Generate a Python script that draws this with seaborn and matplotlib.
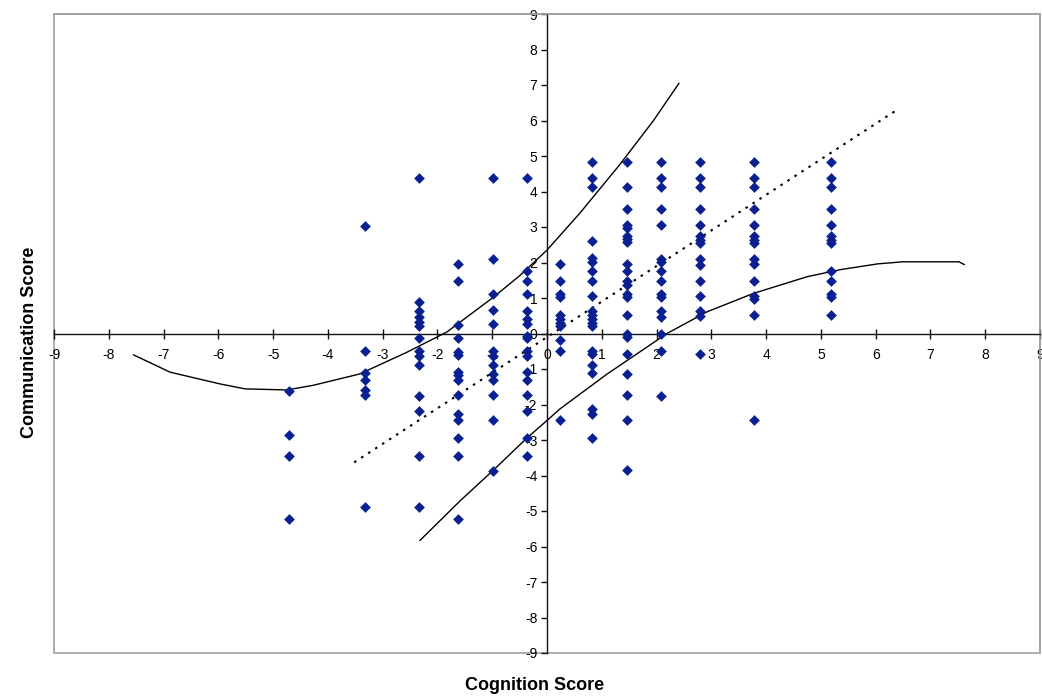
import matplotlib
matplotlib.use("Agg")
import matplotlib.pyplot as plt
from matplotlib.patches import Rectangle
import seaborn as sns
import pandas as pd

# ---- data ----
cognition_levels = [-4.71, -3.33, -2.34, -1.62, -0.98, -0.36, 0.24, 0.83, 1.46, 2.08, 2.80, 3.78, 5.19]
comm_m471 = [-1.61, -2.87, -3.45, -5.22]
comm_m333 = [3.02, -0.50, -1.12, -1.30, -1.58, -1.73, -4.89]
comm_m234 = [4.38, 0.90, 0.62, 0.47, 0.33, 0.22, -0.13, -0.50, -0.62, -0.90, -1.77, -2.17, -3.45, -4.89]
comm_m162 = [1.97, 1.47, 0.23, -0.13, -0.52, -0.60, -1.09, -1.18, -1.30, -1.74, -2.28, -2.43, -2.95, -3.45, -5.22]
comm_m098 = [4.38, 2.10, 1.10, 0.65, 0.27, -0.50, -0.62, -0.90, -1.13, -1.30, -1.74, -2.43, -3.88]
comm_m036 = [4.38, 1.77, 1.47, 1.10, 0.62, 0.40, 0.27, -0.06, -0.13, -0.50, -0.62, -1.09, -1.30, -1.72, -2.19, -2.95, -3.45]
comm_p024 = [1.97, 1.47, 1.10, 1.02, 0.53, 0.41, 0.29, 0.20, -0.17, -0.50, -2.43]
comm_p083 = [4.82, 4.38, 4.12, 2.60, 2.12, 2.01, 1.77, 1.47, 1.07, 0.62, 0.51, 0.40, 0.30, 0.20,
             -0.50, -0.57, -0.88, -1.11, -2.14, -2.28, -2.94]
comm_p146 = [4.82, 4.12, 3.50, 3.05, 2.98, 2.74, 2.67, 2.57, 1.97, 1.77, 1.47, 1.38, 1.10, 1.02, 0.51,
             -0.01, -0.10, -0.57, -1.13, -1.74, -2.43, -3.84]
comm_p208 = [4.82, 4.38, 4.12, 3.50, 3.05, 2.10, 2.01, 1.77, 1.47, 1.10, 1.02, 0.62, 0.47, -0.01, -0.50, -1.76]
comm_p280 = [4.82, 4.38, 4.12, 3.50, 3.05, 2.74, 2.64, 2.55, 2.10, 1.92, 1.47, 1.07, 0.62, 0.49, -0.57]
comm_p378 = [4.82, 4.38, 4.12, 3.50, 3.05, 2.74, 2.64, 2.55, 2.10, 1.97, 1.47, 1.07, 0.98, 0.51, -2.43]
comm_p519 = [4.82, 4.38, 4.12, 3.50, 3.05, 2.74, 2.64, 2.55, 1.77, 1.47, 1.10, 1.02, 0.51]

# regression line (dotted) end points
fit_x = [-3.52, 6.40]
fit_y = [-3.63, 6.31]

# upper solid curve
upper_x = [-7.55, -6.88, -5.97, -5.51, -4.75, -4.27, -3.42, -2.56, -1.83, -0.98, -0.49, 0.00, 0.60, 1.33, 1.94, 2.41]
upper_y = [-0.60, -1.09, -1.42, -1.56, -1.59, -1.46, -1.14, -0.53, 0.04, 1.02, 1.64, 2.35, 3.39, 4.76, 5.99, 7.05]

# lower solid curve
lower_x = [-2.32, -1.59, -0.98, -0.37, 0.00, 0.24, 1.09, 2.19, 2.92, 3.77, 4.75, 5.36, 6.03, 6.50, 7.52, 7.62]
lower_y = [-5.83, -4.72, -3.85, -2.95, -2.45, -2.12, -1.15, 0.00, 0.61, 1.13, 1.60, 1.80, 1.96, 2.02, 2.02, 1.94]

x_ticks = list(range(-9, 10))
y_ticks = list(range(-9, 10))

# ---- assemble ----
columns = [comm_m471, comm_m333, comm_m234, comm_m162, comm_m098, comm_m036, comm_p024,
           comm_p083, comm_p146, comm_p208, comm_p280, comm_p378, comm_p519]
rows = []
for cx, ys in zip(cognition_levels, columns):
    for v in ys:
        rows.append((cx, v))
df = pd.DataFrame(rows, columns=["Cognition Score", "Communication Score"])

sns.set_style("white")
plt.rcParams["font.family"] = ["Liberation Sans", "DejaVu Sans"]
plt.rcParams["text.color"] = "black"
plt.rcParams["xtick.color"] = "black"
plt.rcParams["ytick.color"] = "black"

W, H = 1042, 698
fig = plt.figure(figsize=(W / 100, H / 100), dpi=100)
ax = fig.add_axes([54 / W, 45 / H, 986 / W, 639 / H])

marker_color = "#0a2090"
sns.scatterplot(data=df, x="Cognition Score", y="Communication Score", ax=ax,
                marker="D", s=30, color=marker_color, edgecolor=marker_color, linewidth=0, zorder=3)

sns.lineplot(x=upper_x, y=upper_y, ax=ax, sort=False, estimator=None, color="black", lw=1.0, zorder=2)
sns.lineplot(x=lower_x, y=lower_y, ax=ax, sort=False, estimator=None, color="black", lw=1.0, zorder=2)
ax.plot(fit_x, fit_y, color="black", lw=1.5, linestyle=(0, (1.2, 2.8)), zorder=2)

ax.set_xlim(-9, 9)
ax.set_ylim(-9, 9)
ax.set_xticks(x_ticks)
ax.set_yticks(y_ticks)
ax.set_xticklabels([str(t) for t in x_ticks])
ax.set_yticklabels([str(t) for t in y_ticks])
ax.set_xlabel("")
ax.set_ylabel("")

for side in ["left", "bottom"]:
    ax.spines[side].set_position(("data", 0))
    ax.spines[side].set_color("#111111")
    ax.spines[side].set_linewidth(1.0)
for side in ["top", "right"]:
    ax.spines[side].set_color("#a0a0a0")
    ax.spines[side].set_linewidth(1.2)
ax.add_patch(Rectangle((0, 0), 1, 1, transform=ax.transAxes, fill=False,
                       edgecolor="#a0a0a0", lw=1.2, clip_on=False, zorder=0))

ax.tick_params(axis="x", direction="inout", length=7, width=1, color="#111111",
               labelsize=10, pad=7, bottom=True, labelcolor="black")
ax.tick_params(axis="y", direction="out", length=4, width=1, color="#111111",
               labelsize=10, pad=3, left=True, labelcolor="black")

fig.text(535 / W, 1 - 685 / H, "Cognition Score", ha="center", va="center",
         fontsize=13, fontweight="bold", color="black")
fig.text(30 / W, 1 - 342 / H, "Communication Score", ha="center", va="center",
         rotation=90, fontsize=13, fontweight="bold", color="black")

fig.savefig("out.png", dpi=100, facecolor="white")
